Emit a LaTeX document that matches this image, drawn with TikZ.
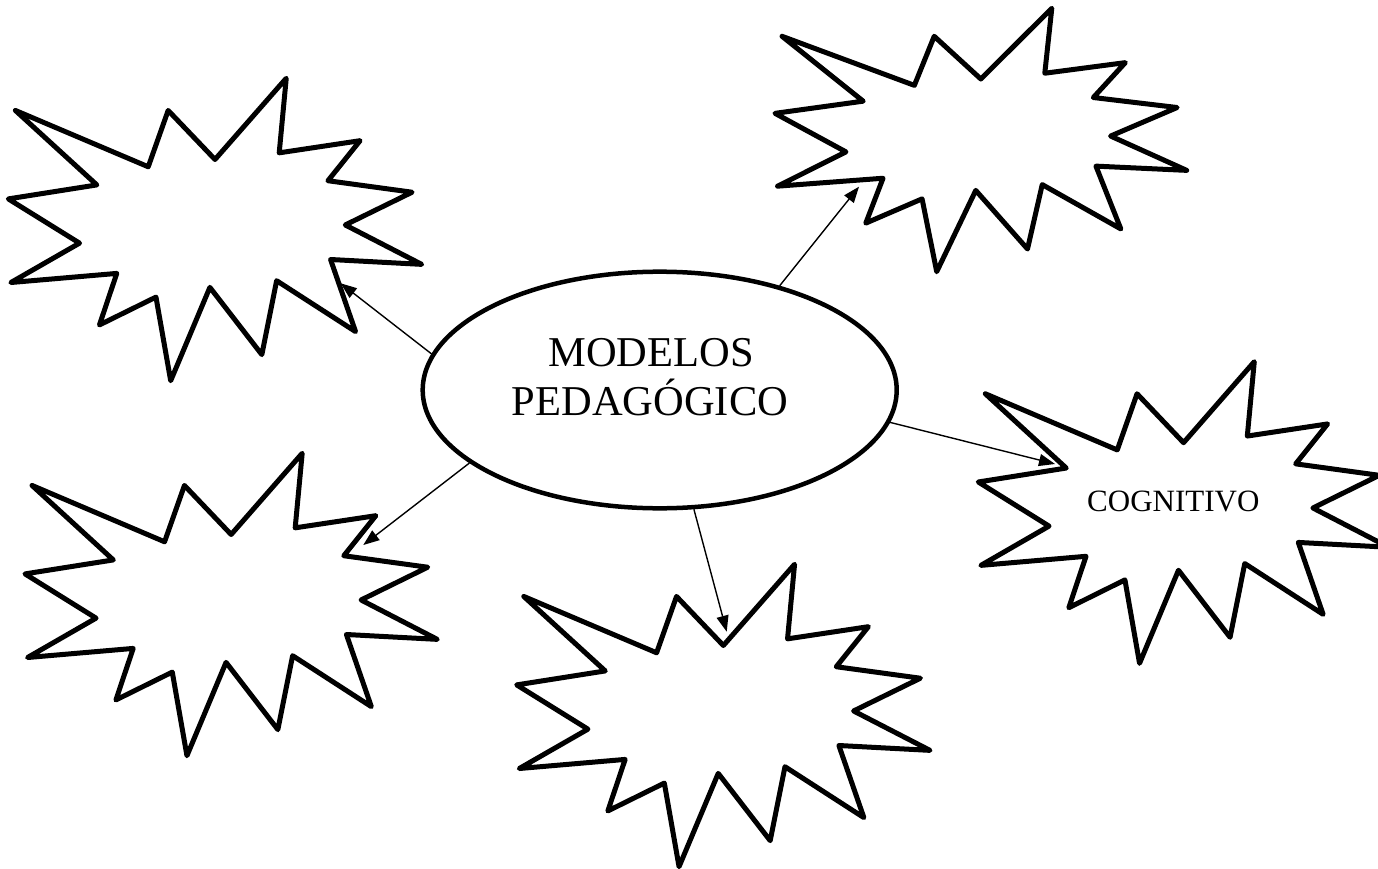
\documentclass[tikz,border=0pt]{standalone}
\usepackage{fontspec}
\setmainfont{Liberation Serif}
\usetikzlibrary{arrows.meta,shapes.geometric}
\tikzset{
  starline/.style={draw=black, fill=white, line width=5pt, line join=round},
  arr/.style={draw=black, line width=1.4pt, -{Triangle[length=16pt,width=12pt]}},
  explosion/.pic={
    \path[starline] (50,26.85) -- (67.23,0) -- (65.53,24.65) -- (85.09,20.63)
      -- (77.32,33.87) -- (97.67,37.67) -- (81.51,48.50) -- (100,61.53)
      -- (77.95,59.92) -- (84.00,83.77) -- (64.91,66.93) -- (61.33,91.38)
      -- (48.76,69.14) -- (39.28,100) -- (35.72,72.35) -- (22.05,81.56)
      -- (26.24,64.52) -- (0.625,67.53) -- (17.23,54.51) -- (0,39.88)
      -- (21.42,35.26) -- (1.71,10.63) -- (33.85,29.26) -- (38.67,10.63) -- cycle;
  }
}
\begin{document}
\begin{tikzpicture}[x=1pt,y=-1pt]
\useasboundingbox (0,0) rectangle (1378,869);
\clip (0,0) rectangle (1378,869);
% central ellipse
\node[ellipse, draw=black, line width=4.5pt, fill=white, inner sep=0pt,
      minimum width=474pt, minimum height=236.6pt] (e) at (659.7,390) {};
\node[anchor=base, inner sep=0pt, font=\fontsize{42.5}{49}\selectfont] (m1) at (651,366) {MODELOS};
\node[anchor=base, inner sep=0pt, font=\fontsize{42.5}{49}\selectfont] (m2) at (650,415) {PEDAGÓGICO};
% arrow tips
\coordinate (t1) at (340.7,283.3);
\coordinate (t2) at (859,186.7);
\coordinate (t3) at (1055,464);
\coordinate (t4) at (363.3,545);
\coordinate (t5) at (726.7,631.7);
\draw[arr] (e.171.1) -- (t1);
\draw[arr] (e.41.9) -- (t2);
\draw[arr] (e.352.4) -- (t3);
\draw[arr] (e.201.8) -- (t4);
\draw[arr] (e.286.4) -- (t5);
% stars
\path (8.3,78.3) pic[xscale=4.134,yscale=3.024] {explosion};
\path (775,8.3) pic[xscale=4.117,yscale=2.634] {explosion};
\path (978.3,361.7) pic[xscale=4.105,yscale=3.016] {explosion};
\path (25,453.3) pic[xscale=4.123,yscale=3.024] {explosion};
\path (516.7,564.3) pic[xscale=4.133,yscale=3.024] {explosion};
\node[anchor=base, inner sep=0pt, font=\fontsize{31}{36}\selectfont] (cog) at (1173.3,511.7) {COGNITIVO};
\end{tikzpicture}
\end{document}
